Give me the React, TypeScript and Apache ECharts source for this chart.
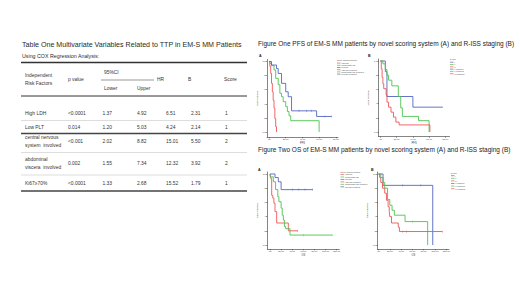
import React, { useEffect, useRef } from "react";
import * as echarts from "echarts";

const FONT = '"Liberation Sans", Arial, Helvetica, sans-serif';

// ---------- Table data ----------
const tableTitle = "Table One Multivariate Variables Related to TTP in EM-S MM Patients";
const tableSubtitle = "Using COX Regression Analysis:";
const headerFactor = ["Independent", "Risk Factors"];
const headerCols = ["p value", "95%CI", "Lower", "Upper", "HR", "B", "Score"];
const riskFactors: string[][] = [
  ["High LDH"],
  ["Low PLT"],
  ["central nervous", "system  involved"],
  ["abdominal", "viscera  involved"],
  ["Ki67≥70%"],
];
const pValues = ["<0.0001", "0.014", "<0.001", "0.002", "<0.0001"];
const ciLower = ["1.37", "1.20", "2.02", "1.55", "1.33"];
const ciUpper = ["4.92", "5.03", "8.82", "7.34", "2.68"];
const hrValues = ["6.51", "4.24", "15.01", "12.32", "15.52"];
const bValues = ["2.31", "2.14", "5.50", "3.92", "1.79"];
const scoreValues = ["1", "1", "2", "2", "1"];

// ---------- Figure data ----------
const figOneTitle = "Figure One PFS of EM-S MM patients by novel scoring system (A) and R-ISS staging (B)";
const figTwoTitle = "Figure Two OS of EM-S MM patients by novel scoring system (A) and R-ISS staging (B)";
const novelTitle = "Novel scoring system";
const rissTitle = "R-ISS";
const novelGroups = ["High risk", "Intermediate risk", "Low risk", "High risk-censored", "Intermediate risk-censored", "Low risk-censored"];
const rissGroups = ["I", "II", "III", "I-censored", "II-censored", "III-censored"];
const survivalTicks = [0, 0.2, 0.4, 0.6, 0.8, 1];
const survivalTickLabels = ["0.0", ".2", ".4", ".6", ".8", "1.0"];
const pfsTicks = [0, 20, 40, 60, 80];
const pfsTickLabels = [".00", "20.00", "40.00", "60.00", "80.00"];
const osTicks = [0, 20, 40, 60, 80, 100, 120];
const osTickLabels = [".00", "20.00", "40.00", "60.00", "80.00", "100.00", "120.00"];

// PFS, novel scoring system (A)
const pfsAHigh = [[0, 1], [1, 0.93], [2, 0.83], [3, 0.69], [4, 0.57], [5, 0.45], [6, 0.34], [7, 0.19], [8, 0.075], [9, 0]];
const pfsAInter = [[0, 1], [1, 0.97], [3, 0.94], [6, 0.88], [8, 0.76], [11, 0.67], [13, 0.55], [15, 0.5], [17, 0.43], [20, 0.36], [22, 0.29], [24, 0.23], [26, 0.16], [60, 0]];
const pfsALow = [[0, 1], [3, 0.95], [9, 0.9], [11, 0.83], [15, 0.69], [20, 0.57], [23, 0.5], [27, 0.3], [57, 0.22], [75, 0.22]];
const pfsALowCens = [[36, 0.3], [45, 0.3], [51, 0.3], [67, 0.22], [75, 0.22]];
// PFS, R-ISS (B)
const pfsBI = [[0, 1], [6, 0.85], [8, 0.5], [40, 0.35], [77, 0.35]];
const pfsBII = [[0, 1], [3, 0.96], [6, 0.88], [8, 0.8], [10, 0.73], [14, 0.65], [22, 0.5], [25, 0.34], [27, 0.22], [47, 0.16], [60, 0]];
const pfsBIII = [[0, 1], [1, 0.89], [2, 0.77], [3, 0.68], [4, 0.61], [7, 0.52], [8, 0.42], [10, 0.35], [13, 0.28], [16, 0.21], [19, 0.14], [23, 0.1], [61, 0]];
// OS, novel scoring system (A)
const osAHigh = [[0, 1], [1, 0.94], [3, 0.7], [5, 0.66], [7, 0.59], [9, 0.47], [12, 0.31], [33, 0.2], [50, 0.2]];
const osAInter = [[0, 1], [1, 0.96], [6, 0.89], [10, 0.78], [14, 0.68], [16, 0.61], [20, 0.52], [22, 0.42], [24, 0.35], [26, 0.26], [28, 0.23], [36, 0.14], [112, 0.14]];
const osALow = [[0, 1], [9, 0.95], [15, 0.89], [20, 0.78], [77, 0.78]];
const osALowCens = [[40, 0.78], [52, 0.78], [63, 0.78], [77, 0.78]];
const osAInterCens = [[60, 0.14], [112, 0.14]];
const osAHighCens = [[50, 0.2]];
// OS, R-ISS (B)
const osBI = [[0, 1], [8, 0.84], [96, 0]];
const osBII = [[0, 1], [4, 0.95], [8, 0.88], [11, 0.8], [16, 0.64], [20, 0.56], [24, 0.49], [28, 0.42], [47, 0.33], [87, 0]];
const osBIII = [[0, 1], [2, 0.95], [4, 0.88], [7, 0.8], [11, 0.73], [14, 0.63], [17, 0.54], [19, 0.47], [20, 0.4], [23, 0.31], [35, 0.25], [37, 0.19], [113, 0.19]];
const osBICens = [[43, 0.84], [75, 0.84]];
const osBIICens = [[60, 0.33]];
const osBIIICens = [[43, 0.19], [50, 0.19], [113, 0.19]];

const RED = "#ee5558";
const GREEN = "#4cc44c";
const BLUE = "#5466c2";

const panels = [
  { left: 267, top: 59.5, width: 71, height: 77.5, xMin: -2.4, xMax: 82.6, yMin: -0.071, yMax: 1.028, ticks: pfsTicks, labels: pfsTickLabels, xName: "PFS", tag: "A", tagX: 259, tagY: 56 },
  { left: 378.7, top: 59, width: 70.8, height: 77.5, xMin: -2.2, xMax: 85.2, yMin: -0.063, yMax: 1.028, ticks: pfsTicks, labels: pfsTickLabels, xName: "PFS", tag: "B", tagX: 368, tagY: 56 },
  { left: 267.3, top: 172, width: 72, height: 77, xMin: -4.9, xMax: 124.9, yMin: -0.056, yMax: 1.028, ticks: osTicks, labels: osTickLabels, xName: "OS", tag: "A", tagX: 258, tagY: 170 },
  { left: 377.5, top: 172, width: 71.5, height: 77, xMin: -1.8, xMax: 124.8, yMin: -0.056, yMax: 1.028, ticks: osTicks, labels: osTickLabels, xName: "OS", tag: "B", tagX: 371, tagY: 170 },
];

function txt(x: number, y: number, text: string, size: number, extra: any = {}) {
  const align = extra.align || "left";
  return {
    type: "text",
    x,
    y,
    silent: true,
    style: {
      text,
      fontSize: size,
      fontFamily: FONT,
      fontWeight: extra.weight || "normal",
      fill: extra.fill || "#333",
      align,
      textAlign: align,
      verticalAlign: "middle",
      textVerticalAlign: "middle",
    },
  };
}

function hline(x1: number, x2: number, y: number, w: number, color: string) {
  return { type: "line", silent: true, shape: { x1, y1: y, x2, y2: y }, style: { stroke: color, lineWidth: w } };
}

function legend(x: number, y: number, title: string, labels: string[], colors: string[], gap: number) {
  const els: any[] = [txt(x, y, title, 2.1, { fill: "#444" })];
  labels.forEach((l, i) => {
    const yy = y + gap * (i + 1) + 0.4;
    els.push({ type: "line", silent: true, shape: { x1: x, y1: yy, x2: x + 3.5, y2: yy }, style: { stroke: colors[i], lineWidth: 0.7 } });
    els.push(txt(x + 4.3, yy, l, 1.9, { fill: "#444" }));
  });
  return els;
}

export default function App() {
  const ref = useRef<HTMLDivElement>(null);
  useEffect(() => {
    if (!ref.current) return;
    const chart = echarts.init(ref.current, undefined, { renderer: "svg" });

    const grid = panels.map((p) => ({ left: p.left, top: p.top, width: p.width, height: p.height, containLabel: false }));
    const xAxis = panels.map((p, i) => ({
      type: "value",
      gridIndex: i,
      min: p.xMin,
      max: p.xMax,
      name: p.xName,
      nameLocation: "middle",
      nameGap: 5,
      nameTextStyle: { fontSize: 2.6, fontFamily: FONT, color: "#333" },
      axisLine: { show: true, onZero: false, lineStyle: { color: "#333", width: 0.6 } },
      axisTick: { show: true, length: 1.3, customValues: p.ticks, lineStyle: { color: "#333", width: 0.5 } },
      axisLabel: {
        fontSize: 2.3,
        fontFamily: FONT,
        color: "#333",
        margin: 1.6,
        customValues: p.ticks,
        formatter: (v: number) => {
          const k = p.ticks.indexOf(v);
          return k >= 0 ? p.labels[k] : String(v);
        },
      },
      splitLine: { show: false },
    }));
    const yAxis = panels.map((p, i) => ({
      type: "value",
      gridIndex: i,
      min: p.yMin,
      max: p.yMax,
      name: "Cum Survival",
      nameLocation: "middle",
      nameRotate: 90,
      nameGap: 6,
      nameTextStyle: { fontSize: 2.5, fontFamily: FONT, color: "#333" },
      axisLine: { show: true, onZero: false, lineStyle: { color: "#333", width: 0.6 } },
      axisTick: { show: true, length: 1.3, customValues: survivalTicks, lineStyle: { color: "#333", width: 0.5 } },
      axisLabel: {
        fontSize: 2.3,
        fontFamily: FONT,
        color: "#333",
        margin: 1.4,
        customValues: survivalTicks,
        formatter: (v: number) => {
          const k = survivalTicks.findIndex((t) => Math.abs(t - v) < 1e-6);
          return k >= 0 ? survivalTickLabels[k] : String(v);
        },
      },
      splitLine: { show: false },
    }));

    const curve = (data: number[][], idx: number, color: string) => ({
      type: "line",
      step: "end",
      xAxisIndex: idx,
      yAxisIndex: idx,
      data,
      symbol: "none",
      showSymbol: false,
      silent: true,
      lineStyle: { color, width: 0.9 },
    });
    const cens = (data: number[][], idx: number, color: string) => ({
      type: "scatter",
      xAxisIndex: idx,
      yAxisIndex: idx,
      data,
      symbol: "rect",
      symbolSize: [0.5, 2.2],
      silent: true,
      itemStyle: { color },
    });

    const series = [
      curve(pfsAHigh, 0, RED), curve(pfsAInter, 0, GREEN), curve(pfsALow, 0, BLUE), cens(pfsALowCens, 0, BLUE),
      curve(pfsBI, 1, BLUE), curve(pfsBII, 1, GREEN), curve(pfsBIII, 1, RED),
      curve(osAHigh, 2, RED), curve(osAInter, 2, GREEN), curve(osALow, 2, BLUE),
      cens(osALowCens, 2, BLUE), cens(osAInterCens, 2, GREEN), cens(osAHighCens, 2, RED),
      curve(osBI, 3, BLUE), curve(osBII, 3, GREEN), curve(osBIII, 3, RED),
      cens(osBICens, 3, BLUE), cens(osBIICens, 3, GREEN), cens(osBIIICens, 3, RED),
    ];

    // ---------- Graphic: table, titles, legends ----------
    const g: any[] = [];
    const T = 4.9;
    g.push(txt(22, 45, tableTitle, 7.1, { fill: "#2a2a2a" }));
    g.push(txt(22, 56, tableSubtitle, 5.3, { fill: "#2a2a2a" }));
    g.push(hline(21, 247, 62.5, 1.6, "#333"));
    g.push(txt(25, 75.5, headerFactor[0], T));
    g.push(txt(25, 83, headerFactor[1], T));
    g.push(txt(68, 79.5, headerCols[0], T));
    g.push(txt(104, 72, headerCols[1], T));
    g.push(hline(101, 154, 80, 0.6, "#555"));
    g.push(txt(104, 88, headerCols[2], T));
    g.push(txt(137, 88, headerCols[3], T));
    g.push(txt(157, 79.5, headerCols[4], T));
    g.push(txt(188, 79.5, headerCols[5], T));
    g.push(txt(224, 79.5, headerCols[6], T));
    g.push(hline(21, 247, 96, 1, "#333"));
    const rowY = [113, 127.5, 141.5, 163.5, 183];
    rowY.forEach((y, i) => {
      const lab = riskFactors[i];
      if (lab.length === 1) g.push(txt(25, y, lab[0], T));
      else {
        g.push(txt(25, y - 4, lab[0], T));
        g.push(txt(25, y + 4, lab[1], T));
      }
      g.push(txt(68, y, pValues[i], T));
      g.push(txt(102.5, y, ciLower[i], T));
      g.push(txt(137, y, ciUpper[i], T));
      g.push(txt(166, y, hrValues[i], T));
      g.push(txt(191, y, bValues[i], T));
      g.push(txt(225, y, scoreValues[i], T));
    });
    g.push(hline(21, 247, 120.5, 0.5, "#bbb"));
    g.push(hline(21, 247, 133.5, 1.3, "#444"));
    g.push(hline(21, 247, 152.5, 0.5, "#bbb"));
    g.push(hline(21, 247, 175, 0.5, "#bbb"));
    g.push(hline(21, 247, 191, 1.3, "#444"));

    g.push(txt(258, 43, figOneTitle, 6.5, { fill: "#222" }));
    g.push(txt(258, 149, figTwoTitle, 6.5, { fill: "#222" }));
    panels.forEach((p) => g.push(txt(p.tagX, p.tagY, p.tag, 3.6, { fill: "#222", weight: "bold" })));

    g.push(...legend(337, 60.5, novelTitle, novelGroups, [RED, GREEN, BLUE, RED, GREEN, BLUE], 2.2));
    g.push(...legend(450, 59.5, rissTitle, rissGroups, [BLUE, GREEN, RED, BLUE, GREEN, RED], 2.3));
    g.push(...legend(340.5, 171.7, novelTitle, novelGroups, [RED, GREEN, BLUE, RED, GREEN, BLUE], 2.45));
    g.push(...legend(451, 172.7, rissTitle, rissGroups, [BLUE, GREEN, RED, BLUE, GREEN, RED], 2.6));

    chart.setOption({
      animation: false,
      backgroundColor: "#ffffff",
      grid,
      xAxis,
      yAxis,
      series,
      graphic: { elements: g },
    });
    return () => chart.dispose();
  }, []);

  return (
    <div
      ref={ref}
      style={{ position: "absolute", left: 0, top: 0, width: 520, height: 292, background: "#fff" }}
    />
  );
}
